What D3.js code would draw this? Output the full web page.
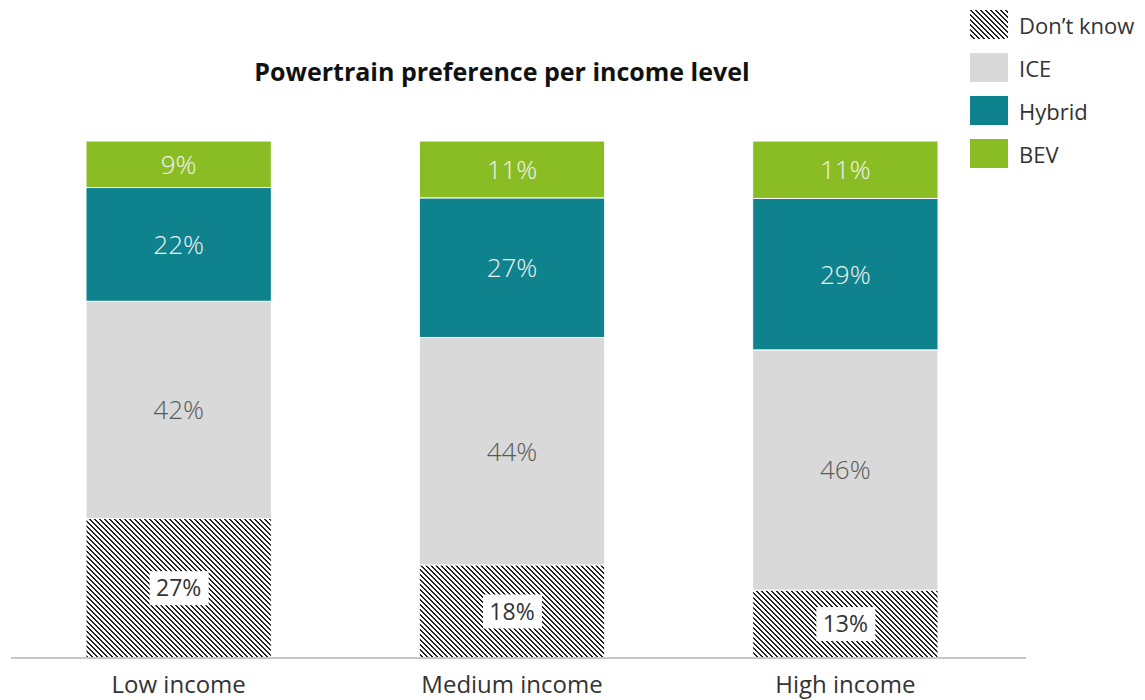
<!DOCTYPE html>
<html>
<head>
<meta charset="utf-8">
<script src="https://cdn.jsdelivr.net/npm/d3@7"></script>
<style>
  body { margin: 0; background: #fff; }
  svg { display: block; font-family: "Open Sans", "Noto Sans", sans-serif; }
</style>
</head>
<body>
<div id="chart"></div>
<script>
// size setup
var w = 1145;
var h = 700;

// data
var categories = ["Low income", "Medium income", "High income"];
var seriesNames = ["Don\u2019t know", "ICE", "Hybrid", "BEV"];
var dontKnow = [27, 18, 13];
var ice = [42, 44, 46];
var hybrid = [22, 27, 29];
var bev = [9, 11, 11];

// colors / text colors per series
var colorMapping = {
    "Don\u2019t know": "url(#hatch)",
    "ICE": "#d9d9d9",
    "Hybrid": "#0e828d",
    "BEV": "#8abd24"
};
var textColor = {
    "Don\u2019t know": "#333",
    "ICE": "#595959",
    "Hybrid": "#f2f2f2",
    "BEV": "#f2f2f2"
};

// table for stacking
var rows = categories.map(function(c, i) {
    return {
        cat: c,
        "Don\u2019t know": dontKnow[i],
        "ICE": ice[i],
        "Hybrid": hybrid[i],
        "BEV": bev[i]
    };
});

// values don't always add to 100, so expand to full bar height
var series = d3.stack()
    .keys(seriesNames)
    .offset(d3.stackOffsetExpand)(rows);

// scales
var xScale = d3.scaleBand()
    .domain(categories)
    .range([11, 1013])
    .paddingInner(0.444)
    .paddingOuter(0.225);

var yScale = d3.scaleLinear()
    .domain([0, 1])
    .range([658, 141]);

var svg = d3.select("#chart")
    .append("svg")
    .attr("width", w)
    .attr("height", h);

// hatch pattern for "Don't know" - pixel staircase going down-right
var defs = svg.append("defs");
var pat = defs.append("pattern")
    .attr("id", "hatch")
    .attr("patternUnits", "userSpaceOnUse")
    .attr("width", 5)
    .attr("height", 5);
pat.append("rect").attr("width", 5).attr("height", 5).attr("fill", "#fff");
d3.range(5).forEach(function(r) {
    [r, r + 1].forEach(function(c) {
        pat.append("rect")
            .attr("x", c % 5)
            .attr("y", r)
            .attr("width", 1)
            .attr("height", 1)
            .attr("fill", "#222")
            .attr("shape-rendering", "crispEdges");
    });
});

// title
svg.append("text")
    .attr("x", 502)
    .attr("y", 81)
    .attr("text-anchor", "middle")
    .attr("font-size", 25)
    .attr("font-weight", 700)
    .attr("fill", "#111")
    .text("Powertrain preference per income level");

// bars
var groups = svg.selectAll("g.stack-group")
    .data(series)
    .enter()
    .append("g")
    .attr("class", "stack-group");

groups.selectAll("rect")
    .data(function(d) { return d.map(function(p) { p.key = d.key; return p; }); })
    .enter()
    .append("rect")
    .attr("x", function(d) { return xScale(d.data.cat); })
    .attr("y", function(d) { return yScale(d[1]); })
    .attr("width", xScale.bandwidth())
    .attr("height", function(d) { return yScale(d[0]) - yScale(d[1]); })
    .attr("fill", function(d) { return colorMapping[d.key]; })
    .attr("stroke", "#fff")
    .attr("stroke-width", 1);

// value labels
groups.each(function(s) {
    var g = d3.select(this);
    s.forEach(function(d) {
        var cx = xScale(d.data.cat) + xScale.bandwidth() / 2;
        var cy = (yScale(d[0]) + yScale(d[1])) / 2;
        var val = d.data[s.key] + "%";
        if (s.key === "Don\u2019t know") {
            g.append("rect")
                .attr("x", cx - 29)
                .attr("y", cy - 17)
                .attr("width", 59)
                .attr("height", 34)
                .attr("fill", "#fff");
        }
        g.append("text")
            .attr("x", cx)
            .attr("y", cy)
            .attr("dy", "0.36em")
            .attr("text-anchor", "middle")
            .attr("font-size", s.key === "Don\u2019t know" ? 23 : 26)
            .attr("font-weight", s.key === "Don\u2019t know" ? 400 : 300)
            .attr("fill", textColor[s.key])
            .text(val);
    });
});

// x axis
var xAxisGroup = svg.append("g")
    .attr("transform", "translate(0,658)")
    .call(d3.axisBottom(xScale).tickSize(0).tickPadding(18));
xAxisGroup.select(".domain")
    .attr("d", "M11,0 H1026")
    .attr("stroke", "#c8c8c8")
    .attr("stroke-width", 2);
xAxisGroup.selectAll("text")
    .attr("font-size", 24)
    .attr("font-family", "\"Open Sans\", sans-serif")
    .attr("fill", "#333");

// legend (top to bottom)
var legend = svg.append("g").attr("transform", "translate(970,10)");
seriesNames.forEach(function(name, i) {
    var item = legend.append("g").attr("transform", "translate(0," + (i * 43) + ")");
    item.append("rect")
        .attr("width", 38)
        .attr("height", 29)
        .attr("fill", colorMapping[name]);
    item.append("text")
        .attr("x", 49)
        .attr("y", 16)
        .attr("dy", "0.36em")
        .attr("font-size", 22)
        .attr("fill", "#333")
        .text(name);
});
</script>
</body>
</html>
